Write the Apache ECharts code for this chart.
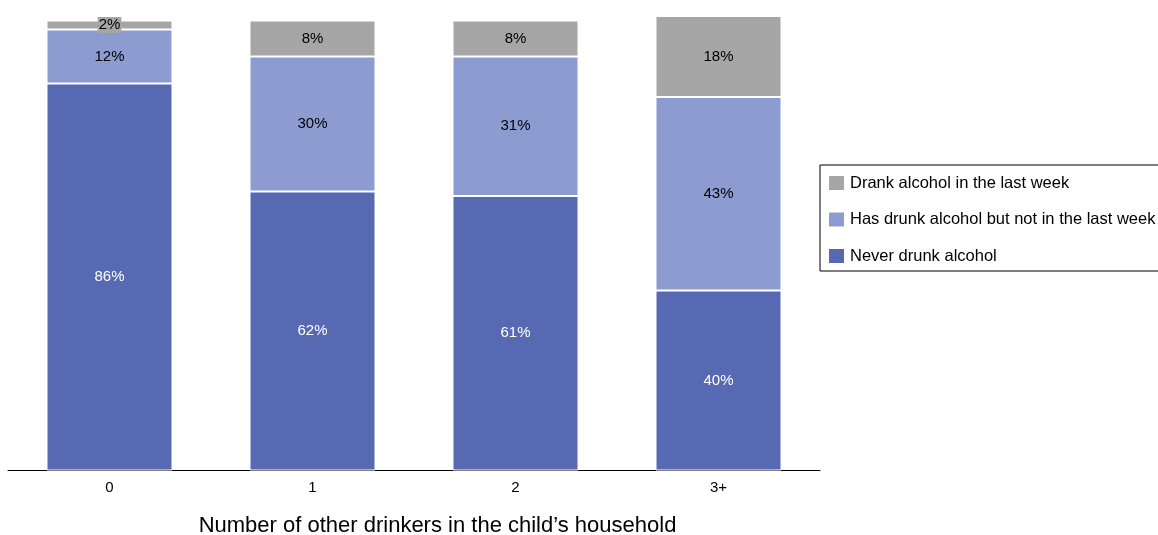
<!DOCTYPE html>
<html><head><meta charset="utf-8">
<script src="https://cdn.jsdelivr.net/npm/echarts@6/dist/echarts.min.js"></script>
<style>html,body{margin:0;padding:0;background:#fff}#c{width:1158px;height:535px}</style>
</head><body><div id="c"></div>
<script>
var categories = ['0', '1', '2', '3+'];
var neverDrunk = [86, 62, 61, 40];
var notLastWeek = [12, 30, 31, 43];
var lastWeek = [2, 8, 8, 18];
var seriesNames = ['Never drunk alcohol', 'Has drunk alcohol but not in the last week', 'Drank alcohol in the last week'];

var FONT = '"Liberation Sans", Arial, sans-serif';
var chart = echarts.init(document.getElementById('c'), null, {renderer: 'canvas'});
function lab(color, extra) {
  var o = {show: true, position: 'inside', color: color, fontSize: 15, fontFamily: FONT, formatter: '{c}%'};
  if (extra) for (var k in extra) o[k] = extra[k];
  return o;
}
chart.setOption({
  animation: false,
  grid: {left: 8, right: 338, top: 11.5, bottom: 64.5, outerBoundsMode: 'none', containLabel: false},
  legend: {
    orient: 'vertical', left: 820, top: 165,
    data: [seriesNames[2], seriesNames[1], seriesNames[0]],
    itemWidth: 17, itemHeight: 16, itemGap: 18.5,
    padding: [9, 10, 6, 7],
    borderColor: '#000', borderWidth: 1,
    icon: 'rect',
    textStyle: {fontSize: 16.5, fontFamily: FONT, color: '#000'}
  },
  xAxis: {
    type: 'category', data: categories,
    axisLine: {lineStyle: {color: '#000', width: 1}},
    axisTick: {show: false},
    axisLabel: {fontSize: 15, fontFamily: FONT, color: '#000', margin: 10},
    name: 'Number of other drinkers in the child\u2019s household',
    nameLocation: 'middle', nameGap: 44,
    nameTextStyle: {fontSize: 22, fontFamily: FONT, color: '#000', padding: [0, 0, 0, 47]}
  },
  yAxis: {type: 'value', min: 0, max: 102, show: false, splitLine: {show: false}},
  series: [
    {name: seriesNames[0], type: 'bar', stack: 's', data: neverDrunk, barWidth: 126,
     itemStyle: {color: '#5869b4', borderColor: '#fff', borderWidth: 1},
     label: lab('#fff')},
    {name: seriesNames[1], type: 'bar', stack: 's', data: notLastWeek, barWidth: 126,
     itemStyle: {color: '#8d9cd0', borderColor: '#fff', borderWidth: 1},
     label: lab('#000')},
    {name: seriesNames[2], type: 'bar', stack: 's', data: lastWeek, barWidth: 126,
     itemStyle: {color: '#a6a6a6', borderColor: '#fff', borderWidth: 1},
     label: lab('#000', {backgroundColor: '#a6a6a6', padding: [1, 1, 0, 1]})}
  ]
});
</script></body></html>
